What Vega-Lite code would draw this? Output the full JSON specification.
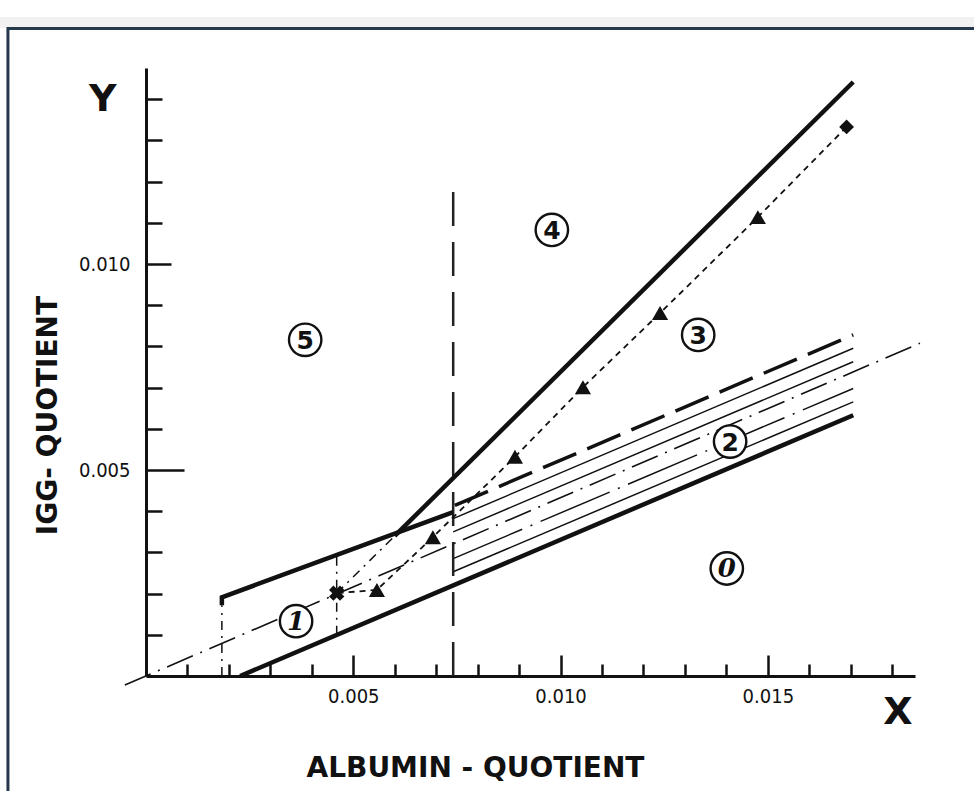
{
  "$schema": "https://vega.github.io/schema/vega-lite/v6.json",
  "width": 769,
  "height": 608,
  "autosize": {"type": "none"},
  "padding": {"left": 146, "top": 68, "right": 59, "bottom": 115},
  "background": "white",
  "config": {"view": {"stroke": null}, "font": "DejaVu Sans Condensed"},
  "datasets": {
    "one": [{}],
    "lines": [
      {"id": "lower", "o": 1, "x": 0.00227, "y": 0},
      {"id": "lower", "o": 2, "x": 0.01706, "y": 0.00633},
      {"id": "upper", "o": 1, "x": 0.00183, "y": 0.00172},
      {"id": "upper", "o": 2, "x": 0.00183, "y": 0.00191},
      {"id": "upper", "o": 3, "x": 0.00741, "y": 0.00398},
      {"id": "steep", "o": 1, "x": 0.0060, "y": 0.0034},
      {"id": "steep", "o": 2, "x": 0.01706, "y": 0.01442},
      {"id": "thin1", "o": 1, "x": 0.00741, "y": 0.00382},
      {"id": "thin1", "o": 2, "x": 0.01706, "y": 0.007955},
      {"id": "thin2", "o": 1, "x": 0.00741, "y": 0.0035},
      {"id": "thin2", "o": 2, "x": 0.01706, "y": 0.00763},
      {"id": "thin3", "o": 1, "x": 0.00741, "y": 0.00253},
      {"id": "thin3", "o": 2, "x": 0.01706, "y": 0.006655},
      {"id": "dashed", "o": 1, "x": 0.00745, "y": 0.00414},
      {"id": "dashed", "o": 2, "x": 0.01706, "y": 0.00828},
      {"id": "hatchdash", "o": 1, "x": 0.00741, "y": 0.00285},
      {"id": "hatchdash", "o": 2, "x": 0.01706, "y": 0.00698},
      {"id": "origin", "o": 1, "x": -0.00051, "y": -0.00022},
      {"id": "origin", "o": 2, "x": 0.01867, "y": 0.00808},
      {"id": "vline", "o": 1, "x": 0.00741, "y": 0},
      {"id": "vline", "o": 2, "x": 0.00741, "y": 0.01206},
      {"id": "v1", "o": 1, "x": 0.00183, "y": 0},
      {"id": "v1", "o": 2, "x": 0.00183, "y": 0.00172},
      {"id": "v2", "o": 1, "x": 0.0046, "y": 0.001},
      {"id": "v2", "o": 2, "x": 0.0046, "y": 0.00294},
      {"id": "ext", "o": 1, "x": 0.0046, "y": 0.00201},
      {"id": "ext", "o": 2, "x": 0.006, "y": 0.0034},
      {"id": "course", "o": 1, "x": 0.0169, "y": 0.01333},
      {"id": "course", "o": 2, "x": 0.01476, "y": 0.01114},
      {"id": "course", "o": 3, "x": 0.0124, "y": 0.00881},
      {"id": "course", "o": 4, "x": 0.01054, "y": 0.00701},
      {"id": "course", "o": 5, "x": 0.0089, "y": 0.00532},
      {"id": "course", "o": 6, "x": 0.00692, "y": 0.00337},
      {"id": "course", "o": 7, "x": 0.00557, "y": 0.00209},
      {"id": "course", "o": 8, "x": 0.0046, "y": 0.00201}
    ],
    "markers": [
      {"kind": "first", "x": 0.0169, "y": 0.01333},
      {"kind": "tri", "x": 0.01476, "y": 0.01114},
      {"kind": "tri", "x": 0.0124, "y": 0.00881},
      {"kind": "tri", "x": 0.01054, "y": 0.00701},
      {"kind": "tri", "x": 0.0089, "y": 0.00532},
      {"kind": "tri", "x": 0.00692, "y": 0.00337},
      {"kind": "tri", "x": 0.00557, "y": 0.00209},
      {"kind": "last", "x": 0.0046, "y": 0.00201}
    ],
    "regions": [
      {"label": "5", "x": 0.00384, "y": 0.00816},
      {"label": "4", "x": 0.00979, "y": 0.01083},
      {"label": "3", "x": 0.01332, "y": 0.00828},
      {"label": "2", "x": 0.01409, "y": 0.00569},
      {"label": "0", "x": 0.01401, "y": 0.00261},
      {"label": "1", "x": 0.00362, "y": 0.00133}
    ]
  },
  "layer": [
    {
      "data": {"name": "one"},
      "mark": {"type": "rect", "fill": "#f1f1f1", "strokeWidth": 0},
      "encoding": {
        "x": {"datum": -0.0036, "type": "quantitative", "scale": {"domain": [0, 0.01855], "nice": false, "zero": false}, "axis": null},
        "x2": {"datum": 0.0205},
        "y": {"datum": 0.01573, "type": "quantitative", "scale": {"domain": [0, 0.01476], "nice": false, "zero": false}, "axis": null},
        "y2": {"datum": 0.016}
      }
    },
    {
      "data": {"name": "one"},
      "mark": {"type": "rect", "fillOpacity": 0, "stroke": "#26384b", "strokeWidth": 3},
      "encoding": {
        "x": {"datum": -0.00333, "type": "quantitative", "scale": {"domain": [0, 0.01855], "nice": false, "zero": false}, "axis": null},
        "x2": {"datum": 0.0205},
        "y": {"datum": 0.01572, "type": "quantitative", "scale": {"domain": [0, 0.01476], "nice": false, "zero": false}, "axis": null},
        "y2": {"datum": -0.003}
      }
    },
    {
      "data": {"name": "lines"},
      "transform": [{"filter": {"field": "id", "oneOf": ["thin1", "thin2", "thin3"]}}],
      "mark": {"type": "line", "color": "#111", "strokeWidth": 1.5},
      "encoding": {
        "x": {"field": "x", "type": "quantitative", "scale": {"domain": [0, 0.01855], "nice": false, "zero": false},
          "axis": {"orient": "bottom", "values": [0.005, 0.01, 0.015], "format": ".3f", "ticks": false, "domain": false, "grid": false,
            "labelPadding": 10, "labelFontSize": 20, "labelColor": "#111", "labelFont": "DejaVu Sans Condensed",
            "title": "ALBUMIN - QUOTIENT", "titleFontSize": 28, "titleFontWeight": "bold", "titleColor": "#111",
            "titleFont": "DejaVu Sans", "titleX": 329, "titleY": 92, "titleBaseline": "middle", "titleAlign": "center"}},
        "y": {"field": "y", "type": "quantitative", "scale": {"domain": [0, 0.01476], "nice": false, "zero": false},
          "axis": {"orient": "left", "values": [0.005, 0.01], "format": ".3f", "ticks": false, "domain": false, "grid": false,
            "labelPadding": 16, "labelFontSize": 20, "labelColor": "#111", "labelFont": "DejaVu Sans Condensed",
            "title": "IGG- QUOTIENT", "titleFontSize": 28, "titleFontWeight": "bold", "titleColor": "#111",
            "titleFont": "DejaVu Sans", "titleX": -98, "titleY": 347, "titleAngle": 270, "titleBaseline": "middle", "titleAlign": "center"}},
        "detail": {"field": "id"},
        "order": {"field": "o"}
      }
    },
    {
      "data": {"name": "lines"},
      "transform": [{"filter": {"field": "id", "equal": "hatchdash"}}],
      "mark": {"type": "line", "color": "#111", "strokeWidth": 1.5, "strokeDash": [75, 9, 2, 9]},
      "encoding": {
        "x": {"field": "x", "type": "quantitative", "scale": {"domain": [0, 0.01855], "nice": false, "zero": false}, "axis": null},
        "y": {"field": "y", "type": "quantitative", "scale": {"domain": [0, 0.01476], "nice": false, "zero": false}, "axis": null},
        "detail": {"field": "id"},
        "order": {"field": "o"}
      }
    },
    {
      "data": {"name": "lines"},
      "transform": [{"filter": {"field": "id", "equal": "origin"}}],
      "mark": {"type": "line", "color": "#111", "strokeWidth": 1.6, "strokeDash": [28, 8, 2, 8]},
      "encoding": {
        "x": {"field": "x", "type": "quantitative", "scale": {"domain": [0, 0.01855], "nice": false, "zero": false}, "axis": null},
        "y": {"field": "y", "type": "quantitative", "scale": {"domain": [0, 0.01476], "nice": false, "zero": false}, "axis": null},
        "detail": {"field": "id"},
        "order": {"field": "o"}
      }
    },
    {
      "data": {"name": "lines"},
      "transform": [{"filter": {"field": "id", "oneOf": ["v1", "v2", "ext"]}}],
      "mark": {"type": "line", "color": "#111", "strokeWidth": 1.5, "strokeDash": [9, 6, 2, 6]},
      "encoding": {
        "x": {"field": "x", "type": "quantitative", "scale": {"domain": [0, 0.01855], "nice": false, "zero": false}, "axis": null},
        "y": {"field": "y", "type": "quantitative", "scale": {"domain": [0, 0.01476], "nice": false, "zero": false}, "axis": null},
        "detail": {"field": "id"},
        "order": {"field": "o"}
      }
    },
    {
      "data": {"name": "lines"},
      "transform": [{"filter": {"field": "id", "equal": "vline"}}],
      "mark": {"type": "line", "color": "#222", "strokeWidth": 2.5, "strokeDash": [34, 16]},
      "encoding": {
        "x": {"field": "x", "type": "quantitative", "scale": {"domain": [0, 0.01855], "nice": false, "zero": false}, "axis": null},
        "y": {"field": "y", "type": "quantitative", "scale": {"domain": [0, 0.01476], "nice": false, "zero": false}, "axis": null},
        "detail": {"field": "id"},
        "order": {"field": "o"}
      }
    },
    {
      "data": {"name": "lines"},
      "transform": [{"filter": {"field": "id", "equal": "dashed"}}],
      "mark": {"type": "line", "color": "#111", "strokeWidth": 3.5, "strokeDash": [36, 12]},
      "encoding": {
        "x": {"field": "x", "type": "quantitative", "scale": {"domain": [0, 0.01855], "nice": false, "zero": false}, "axis": null},
        "y": {"field": "y", "type": "quantitative", "scale": {"domain": [0, 0.01476], "nice": false, "zero": false}, "axis": null},
        "detail": {"field": "id"},
        "order": {"field": "o"}
      }
    },
    {
      "data": {"name": "lines"},
      "transform": [{"filter": {"field": "id", "equal": "course"}}],
      "mark": {"type": "line", "color": "#111", "strokeWidth": 1.8, "strokeDash": [6, 5]},
      "encoding": {
        "x": {"field": "x", "type": "quantitative", "scale": {"domain": [0, 0.01855], "nice": false, "zero": false}, "axis": null},
        "y": {"field": "y", "type": "quantitative", "scale": {"domain": [0, 0.01476], "nice": false, "zero": false}, "axis": null},
        "detail": {"field": "id"},
        "order": {"field": "o"}
      }
    },
    {
      "data": {"name": "lines"},
      "transform": [{"filter": {"field": "id", "oneOf": ["lower", "upper", "steep"]}}],
      "mark": {"type": "line", "color": "#111", "strokeWidth": 4.5},
      "encoding": {
        "x": {"field": "x", "type": "quantitative", "scale": {"domain": [0, 0.01855], "nice": false, "zero": false},
          "axis": {"orient": "bottom", "values": [0.001, 0.002, 0.003, 0.004, 0.005, 0.006, 0.007, 0.008, 0.009, 0.01, 0.011, 0.012, 0.013, 0.014, 0.015, 0.016, 0.017, 0.018],
            "labels": false, "title": null, "grid": false, "domain": true, "domainColor": "#111", "domainWidth": 3,
            "tickColor": "#111", "tickWidth": 2.5,
            "tickSize": {"condition": {"test": "abs(datum.value*200 - round(datum.value*200)) < 0.001", "value": -21}, "value": -12}}},
        "y": {"field": "y", "type": "quantitative", "scale": {"domain": [0, 0.01476], "nice": false, "zero": false},
          "axis": {"orient": "left", "values": [0.001, 0.002, 0.003, 0.004, 0.005, 0.006, 0.007, 0.008, 0.009, 0.01, 0.011, 0.012, 0.013, 0.014],
            "labels": false, "title": null, "grid": false, "domain": true, "domainColor": "#111", "domainWidth": 3,
            "tickColor": "#111", "tickWidth": 2.5,
            "tickSize": {"condition": [{"test": "abs(datum.value - 0.005) < 0.0000001", "value": -38}, {"test": "abs(datum.value - 0.01) < 0.0000001", "value": -25}], "value": -16}}},
        "detail": {"field": "id"},
        "order": {"field": "o"}
      }
    },
    {
      "data": {"name": "markers"},
      "transform": [{"filter": {"field": "kind", "equal": "tri"}}],
      "mark": {"type": "point", "shape": "triangle-up", "filled": true, "color": "#111", "size": 260, "opacity": 1},
      "encoding": {
        "x": {"field": "x", "type": "quantitative", "scale": {"domain": [0, 0.01855], "nice": false, "zero": false}, "axis": null},
        "y": {"field": "y", "type": "quantitative", "scale": {"domain": [0, 0.01476], "nice": false, "zero": false}, "axis": null}
      }
    },
    {
      "data": {"name": "markers"},
      "transform": [{"filter": {"field": "kind", "equal": "first"}}],
      "mark": {"type": "point", "shape": "diamond", "filled": true, "color": "#111", "size": 220, "opacity": 1},
      "encoding": {
        "x": {"field": "x", "type": "quantitative", "scale": {"domain": [0, 0.01855], "nice": false, "zero": false}, "axis": null},
        "y": {"field": "y", "type": "quantitative", "scale": {"domain": [0, 0.01476], "nice": false, "zero": false}, "axis": null}
      }
    },
    {
      "data": {"name": "markers"},
      "transform": [{"filter": {"field": "kind", "equal": "last"}}],
      "mark": {"type": "point", "shape": "cross", "angle": 45, "filled": true, "color": "#111", "size": 240, "opacity": 1},
      "encoding": {
        "x": {"field": "x", "type": "quantitative", "scale": {"domain": [0, 0.01855], "nice": false, "zero": false}, "axis": null},
        "y": {"field": "y", "type": "quantitative", "scale": {"domain": [0, 0.01476], "nice": false, "zero": false}, "axis": null}
      }
    },
    {
      "data": {"name": "regions"},
      "mark": {"type": "point", "shape": "circle", "filled": true, "fill": "white", "fillOpacity": 1, "stroke": "#111", "strokeWidth": 2.4, "size": 1050, "opacity": 1},
      "encoding": {
        "x": {"field": "x", "type": "quantitative", "scale": {"domain": [0, 0.01855], "nice": false, "zero": false}, "axis": null},
        "y": {"field": "y", "type": "quantitative", "scale": {"domain": [0, 0.01476], "nice": false, "zero": false}, "axis": null}
      }
    },
    {
      "data": {"name": "regions"},
      "transform": [{"filter": {"field": "label", "oneOf": ["2", "3", "4", "5"]}}],
      "mark": {"type": "text", "font": "DejaVu Sans", "fontSize": 25, "fontWeight": "bold", "color": "#111", "align": "center", "baseline": "middle", "dy": 1},
      "encoding": {
        "x": {"field": "x", "type": "quantitative", "scale": {"domain": [0, 0.01855], "nice": false, "zero": false}, "axis": null},
        "y": {"field": "y", "type": "quantitative", "scale": {"domain": [0, 0.01476], "nice": false, "zero": false}, "axis": null},
        "text": {"field": "label"}
      }
    },
    {
      "data": {"name": "regions"},
      "transform": [{"filter": {"field": "label", "oneOf": ["0", "1"]}}],
      "mark": {"type": "text", "font": "DejaVu Serif", "fontSize": 26, "fontStyle": "italic", "fontWeight": "bold", "color": "#111", "align": "center", "baseline": "middle", "dy": 1},
      "encoding": {
        "x": {"field": "x", "type": "quantitative", "scale": {"domain": [0, 0.01855], "nice": false, "zero": false}, "axis": null},
        "y": {"field": "y", "type": "quantitative", "scale": {"domain": [0, 0.01476], "nice": false, "zero": false}, "axis": null},
        "text": {"field": "label"}
      }
    },
    {
      "data": {"name": "one"},
      "mark": {"type": "text", "font": "DejaVu Sans", "fontSize": 38, "fontWeight": "bold", "color": "#111", "align": "center", "baseline": "middle"},
      "encoding": {
        "x": {"datum": -0.00104, "type": "quantitative", "scale": {"domain": [0, 0.01855], "nice": false, "zero": false}, "axis": null},
        "y": {"datum": 0.01398, "type": "quantitative", "scale": {"domain": [0, 0.01476], "nice": false, "zero": false}, "axis": null},
        "text": {"value": "Y"}
      }
    },
    {
      "data": {"name": "one"},
      "mark": {"type": "text", "font": "DejaVu Sans", "fontSize": 38, "fontWeight": "bold", "color": "#111", "align": "center", "baseline": "middle"},
      "encoding": {
        "x": {"datum": 0.01814, "type": "quantitative", "scale": {"domain": [0, 0.01855], "nice": false, "zero": false}, "axis": null},
        "y": {"datum": -0.0009, "type": "quantitative", "scale": {"domain": [0, 0.01476], "nice": false, "zero": false}, "axis": null},
        "text": {"value": "X"}
      }
    }
  ],
  "resolve": {"axis": {"x": "independent", "y": "independent"}}
}
